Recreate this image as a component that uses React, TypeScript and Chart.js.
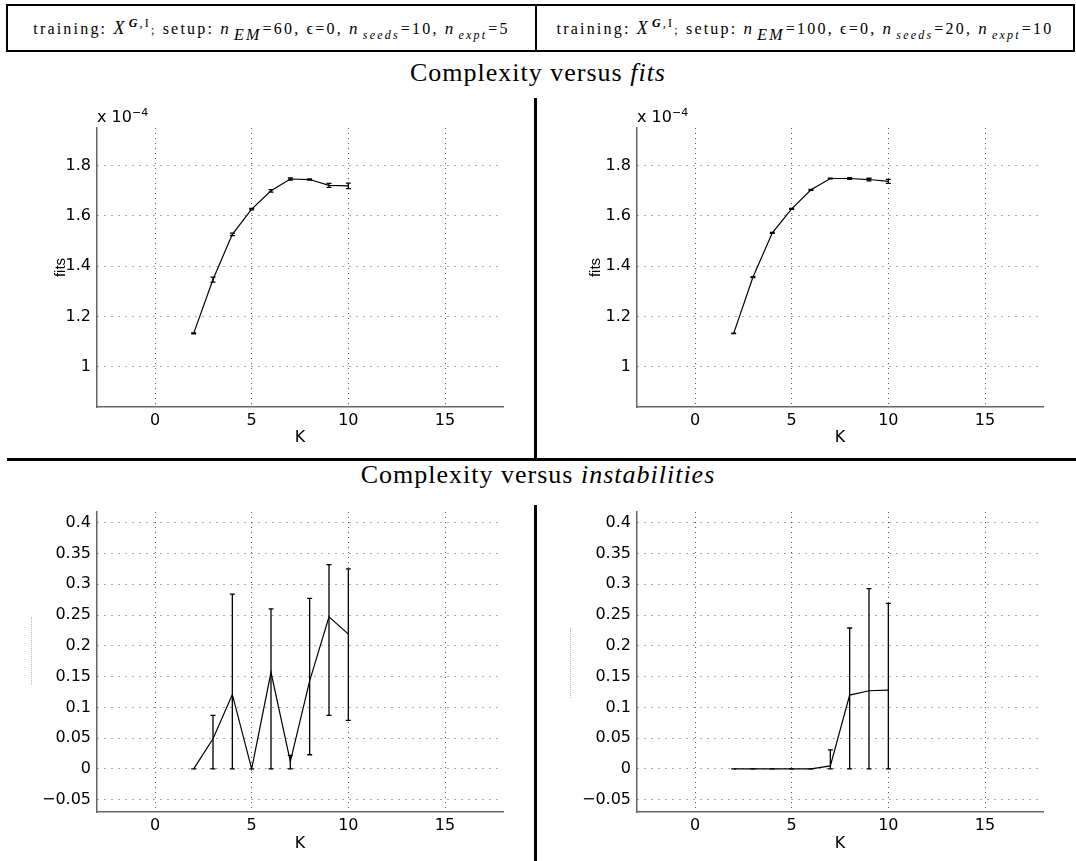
import React, { useEffect, useRef } from 'react';
import { Chart, registerables } from 'chart.js';
Chart.register(...registerables);

// ---------- data ----------
const K = [2, 3, 4, 5, 6, 7, 8, 9, 10];

// fits (x 1e-4), left setup (n_EM=60) and right setup (n_EM=100)
const fitsA = [1.133, 1.347, 1.527, 1.627, 1.700, 1.747, 1.745, 1.722, 1.720];
const fitsAErr = [0.002, 0.010, 0.005, 0.003, 0.005, 0.004, 0.002, 0.008, 0.011];
const fitsB = [1.133, 1.357, 1.533, 1.628, 1.704, 1.749, 1.749, 1.745, 1.738];
const fitsBErr = [0.001, 0.002, 0.002, 0.002, 0.002, 0.001, 0.003, 0.005, 0.008];

// instabilities: mean, lower end and upper end of error bars
const instA = [0, 0.049, 0.121, 0, 0.157, 0.012, 0.143, 0.247, 0.219];
const instALow = [0, 0, 0, 0, 0, 0, 0.023, 0.087, 0.079];
const instAHigh = [0, 0.087, 0.284, 0, 0.260, 0.022, 0.277, 0.332, 0.325];
const instB = [0, 0, 0, 0, 0, 0.005, 0.120, 0.127, 0.128];
const instBLow = [0, 0, 0, 0, 0, 0, 0, 0, 0];
const instBHigh = [0, 0, 0, 0, 0, 0.031, 0.229, 0.293, 0.269];

const X_MIN = -3;
const X_MAX = 18;
const X_STEP = 5;
const FITS_MIN = 0.84;
const FITS_MAX = 1.95;
const FITS_STEP = 0.2;
const INST_MIN = -0.07;
const INST_MAX = 0.4175;
const INST_STEP = 0.05;

const TICK_FONT = { family: 'DejaVu Sans', size: 16 };

function fmt(v: number): string {
  const r = +v.toFixed(4);
  if (r === 0) return '0';
  if (r < 0) return '\u2212' + String(-r);
  return String(r);
}

function makeErrPlugin(xs: number[], lows: number[], highs: number[]) {
  return {
    id: 'errbars',
    afterDatasetsDraw(chart: any) {
      const { ctx, scales } = chart;
      const x = scales.x;
      const y = scales.y;
      ctx.save();
      ctx.strokeStyle = '#000';
      ctx.lineWidth = 1.3;
      const cap = 2.5;
      for (let i = 0; i < xs.length; i++) {
        const px = x.getPixelForValue(xs[i]);
        const pl = y.getPixelForValue(lows[i]);
        const ph = y.getPixelForValue(highs[i]);
        ctx.beginPath();
        ctx.moveTo(px, pl);
        ctx.lineTo(px, ph);
        ctx.moveTo(px - cap, pl);
        ctx.lineTo(px + cap, pl);
        ctx.moveTo(px - cap, ph);
        ctx.lineTo(px + cap, ph);
        ctx.stroke();
      }
      ctx.restore();
    },
  };
}

type PlotProps = {
  left: number;
  top: number;
  width: number;
  height: number;
  areaLeft: number;
  areaTop: number;
  areaRight: number;
  areaBottom: number;
  means: number[];
  lows: number[];
  highs: number[];
  yMin: number;
  yMax: number;
  yStep: number;
  yTitle: string;
  kPad: number;
};

function Plot(p: PlotProps) {
  const ref = useRef<HTMLCanvasElement | null>(null);
  useEffect(() => {
    if (!ref.current) return;
    const pts = K.map((k, i) => ({ x: k, y: p.means[i] }));
    const chart = new Chart(ref.current, {
      type: 'line',
      data: {
        datasets: [
          {
            data: pts,
            borderColor: '#000',
            backgroundColor: '#000',
            borderWidth: 1.2,
            pointRadius: 0,
            tension: 0,
            fill: false,
          },
        ],
      },
      options: {
        animation: false,
        responsive: false,
        maintainAspectRatio: false,
        devicePixelRatio: 1,
        layout: {
          padding: { left: 0, top: p.areaTop, right: p.width - p.areaRight, bottom: 0 },
        },
        plugins: { legend: { display: false }, tooltip: { enabled: false }, title: { display: false } },
        scales: {
          x: {
            type: 'linear',
            min: X_MIN,
            max: X_MAX,
            ticks: {
              stepSize: X_STEP,
              includeBounds: false,
              font: TICK_FONT,
              color: '#000',
              padding: 4,
              maxRotation: 0,
              callback: (v: any) => fmt(Number(v)),
            },
            grid: { color: '#555', lineWidth: 1, drawTicks: false },
            border: { display: true, color: '#666', width: 1.5, dash: [1, 4] },
            title: {
              display: true,
              text: 'K',
              font: TICK_FONT,
              color: '#000',
              padding: { top: 0, bottom: p.kPad },
            },
            afterFit: (s: any) => {
              s.height = p.height - p.areaBottom;
            },
          },
          y: {
            type: 'linear',
            min: p.yMin,
            max: p.yMax,
            ticks: {
              stepSize: p.yStep,
              includeBounds: false,
              font: TICK_FONT,
              color: '#000',
              padding: 6,
              callback: (v: any) => fmt(Number(v)),
            },
            grid: { color: '#555', lineWidth: 1, drawTicks: false },
            border: { display: true, color: '#666', width: 1.5, dash: [1, 6] },
            title: {
              display: p.yTitle !== '',
              text: p.yTitle,
              font: { family: 'Liberation Sans Narrow, Liberation Sans', size: 15 },
              color: '#000',
              padding: { top: 52, bottom: 0 },
            },
            afterFit: (s: any) => {
              s.width = p.areaLeft;
            },
          },
        },
      },
      plugins: [makeErrPlugin(K, p.lows, p.highs)],
    } as any);
    return () => chart.destroy();
  }, []);
  return (
    <canvas
      ref={ref}
      width={p.width}
      height={p.height}
      style={{ position: 'absolute', left: p.left, top: p.top, width: p.width, height: p.height }}
    />
  );
}

const mathI: React.CSSProperties = { fontStyle: 'italic' };

function HeaderFull({ nEM, nSeeds, nExpt }: { nEM: number; nSeeds: number; nExpt: number }) {
  const sub: React.CSSProperties = { fontStyle: 'italic', fontSize: 12, position: 'relative', top: 5, marginLeft: 3, marginRight: 1 };
  const subBig: React.CSSProperties = { ...sub, fontSize: 16, top: 6 };
  return (
    <span>
      training: <span style={{ ...mathI, fontSize: 18 }}>X</span>
      <span style={{ fontSize: 12, position: 'relative', top: -7, marginLeft: 2 }}>
        <b style={mathI}>G</b>,I
      </span>
      <span style={{ fontSize: 12 }}>;</span> setup: <span style={{ ...mathI, fontSize: 17 }}>n</span>
      <span style={subBig}>EM</span>={nEM}, ϵ=0, <span style={{ ...mathI, fontSize: 17 }}>n</span>
      <span style={sub}>seeds</span>={nSeeds}, <span style={{ ...mathI, fontSize: 17 }}>n</span>
      <span style={sub}>expt</span>={nExpt}
    </span>
  );
}

export default function App() {
  const boxStyle: React.CSSProperties = {
    position: 'absolute',
    top: 4,
    height: 44,
    border: '2.5px solid #000',
    display: 'flex',
    alignItems: 'center',
    justifyContent: 'center',
    fontFamily: 'Liberation Serif, serif',
    fontSize: 16,
    letterSpacing: '2.2px',
    whiteSpace: 'nowrap',
  };
  const titleStyle: React.CSSProperties = {
    position: 'absolute',
    left: 0,
    width: 1076,
    textAlign: 'center',
    fontFamily: 'Liberation Serif, serif',
    fontSize: 26,
    letterSpacing: '1px',
    lineHeight: '30px',
  };
  const expLabel = (left: number): React.CSSProperties => ({
    position: 'absolute',
    left,
    top: 108,
    fontFamily: 'DejaVu Sans',
    fontSize: 16,
    lineHeight: '18px',
    whiteSpace: 'nowrap',
  });
  return (
    <div style={{ position: 'absolute', left: 0, top: 0, width: 1076, height: 861, background: '#fff', overflow: 'hidden' }}>
      <div style={{ ...boxStyle, left: 6, width: 527 }}>
        <HeaderFull nEM={60} nSeeds={10} nExpt={5} />
      </div>
      <div style={{ ...boxStyle, left: 535, width: 536 }}>
        <HeaderFull nEM={100} nSeeds={20} nExpt={10} />
      </div>

      <div style={{ ...titleStyle, top: 58 }}>
        Complexity versus <i>fits</i>
      </div>
      <div style={{ ...titleStyle, top: 460 }}>
        Complexity versus <i>instabilities</i>
      </div>

      {/* separators */}
      <div style={{ position: 'absolute', left: 534, top: 98, width: 2.5, height: 361, background: '#000' }} />
      <div style={{ position: 'absolute', left: 7, top: 458, width: 1069, height: 2.5, background: '#000' }} />
      <div style={{ position: 'absolute', left: 534, top: 505, width: 2.5, height: 356, background: '#000' }} />

      <Plot left={0} top={100} width={535} height={358} areaLeft={97} areaTop={28} areaRight={503} areaBottom={307}
        means={fitsA} lows={fitsA.map((v, i) => v - fitsAErr[i])} highs={fitsA.map((v, i) => v + fitsAErr[i])}
        yMin={FITS_MIN} yMax={FITS_MAX} yStep={FITS_STEP} yTitle="fits" kPad={11} />
      <Plot left={535} top={100} width={541} height={358} areaLeft={102} areaTop={28} areaRight={508} areaBottom={307}
        means={fitsB} lows={fitsB.map((v, i) => v - fitsBErr[i])} highs={fitsB.map((v, i) => v + fitsBErr[i])}
        yMin={FITS_MIN} yMax={FITS_MAX} yStep={FITS_STEP} yTitle="fits" kPad={11} />
      <Plot left={0} top={480} width={535} height={381} areaLeft={97} areaTop={32} areaRight={503} areaBottom={332}
        means={instA} lows={instALow} highs={instAHigh}
        yMin={INST_MIN} yMax={INST_MAX} yStep={INST_STEP} yTitle="" kPad={8} />
      <Plot left={535} top={480} width={541} height={381} areaLeft={102} areaTop={32} areaRight={508} areaBottom={332}
        means={instB} lows={instBLow} highs={instBHigh}
        yMin={INST_MIN} yMax={INST_MAX} yStep={INST_STEP} yTitle="" kPad={8} />

      <div style={expLabel(97)}>
        x 10<span style={{ fontSize: 11, position: 'relative', top: -6 }}>−4</span>
      </div>
      <div style={expLabel(637)}>
        x 10<span style={{ fontSize: 11, position: 'relative', top: -6 }}>−4</span>
      </div>

      {/* faint unreadable y-labels on the instability plots */}
      <div style={{ position: 'absolute', left: 31, top: 617, width: 0, height: 68, borderLeft: '1px dotted #bbb' }} />
      <div style={{ position: 'absolute', left: 570, top: 628, width: 0, height: 70, borderLeft: '1px dotted #bbb' }} />
    </div>
  );
}
